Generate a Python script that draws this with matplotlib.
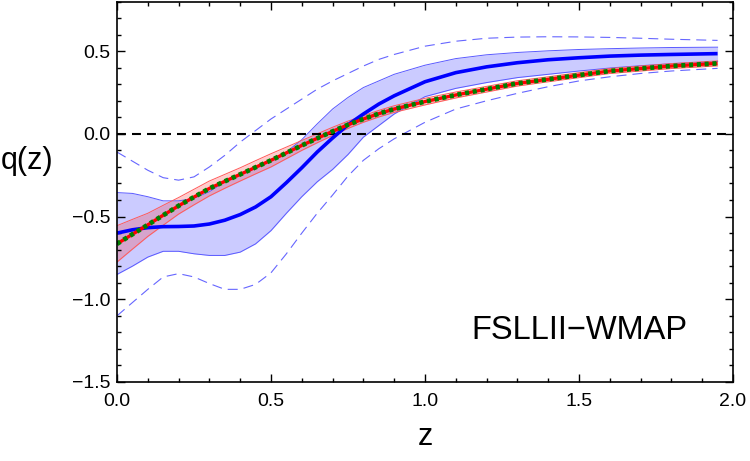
import matplotlib
matplotlib.use("Agg")
import matplotlib.pyplot as plt
from matplotlib.ticker import MultipleLocator

plt.rcParams['font.family'] = ['Liberation Sans', 'DejaVu Sans']

# redshift grid the values were read at
z = [0, 0.05, 0.1, 0.15, 0.2, 0.25, 0.3, 0.35, 0.4, 0.45, 0.5, 0.55, 0.6, 0.65,
     0.7, 0.75, 0.8, 0.85, 0.9, 1.0, 1.1, 1.2, 1.3, 1.4, 1.5, 1.6, 1.7, 1.8, 1.95]

# reconstruction (blue): mean, 1-sigma band, 2-sigma dashed limits
q_blue = [-0.60, -0.58, -0.567, -0.561, -0.56, -0.557, -0.545, -0.522, -0.488, -0.442,
          -0.38, -0.295, -0.205, -0.11, -0.025, 0.055, 0.12, 0.18, 0.23, 0.315,
          0.37, 0.405, 0.43, 0.448, 0.46, 0.47, 0.476, 0.48, 0.485]
blue_hi = [-0.355, -0.36, -0.38, -0.405, -0.405, -0.39, -0.35, -0.29, -0.24, -0.20,
           -0.155, -0.11, -0.035, 0.06, 0.15, 0.22, 0.28, 0.32, 0.36, 0.415,
           0.455, 0.478, 0.492, 0.502, 0.51, 0.515, 0.519, 0.522, 0.524]
blue_lo = [-0.85, -0.80, -0.745, -0.71, -0.71, -0.725, -0.735, -0.735, -0.715, -0.665,
           -0.585, -0.48, -0.38, -0.29, -0.215, -0.125, -0.02, 0.05, 0.12, 0.225,
           0.275, 0.31, 0.34, 0.36, 0.38, 0.398, 0.412, 0.424, 0.437]
blue_hi2 = [-0.11, -0.165, -0.22, -0.265, -0.28, -0.26, -0.20, -0.13, -0.05, 0.02,
            0.09, 0.15, 0.21, 0.27, 0.32, 0.365, 0.41, 0.45, 0.48, 0.53,
            0.56, 0.578, 0.585, 0.587, 0.586, 0.583, 0.578, 0.572, 0.565]
blue_lo2 = [-1.10, -1.02, -0.94, -0.865, -0.845, -0.865, -0.905, -0.94, -0.94, -0.91,
            -0.84, -0.725, -0.60, -0.48, -0.37, -0.255, -0.16, -0.09, -0.03, 0.07,
            0.15, 0.20, 0.245, 0.285, 0.32, 0.345, 0.365, 0.38, 0.396]

# model (red with band, green dotted on top)
q_red = [-0.665, -0.607, -0.55, -0.492, -0.435, -0.382, -0.33, -0.287, -0.245, -0.202,
         -0.16, -0.115, -0.07, -0.027, 0.015, 0.055, 0.09, 0.122, 0.15, 0.195,
         0.235, 0.27, 0.305, 0.33, 0.355, 0.38, 0.395, 0.41, 0.426]
red_err = [0.11, 0.09, 0.07, 0.06, 0.05, 0.047, 0.045, 0.042, 0.04, 0.04,
           0.04, 0.035, 0.03, 0.027, 0.025, 0.022, 0.02, 0.02, 0.02, 0.02,
           0.018, 0.017, 0.016, 0.015, 0.015, 0.015, 0.015, 0.015, 0.015]
q_green = q_red

red_hi = [q + e for q, e in zip(q_red, red_err)]
red_lo = [q - e for q, e in zip(q_red, red_err)]

fig = plt.figure(figsize=(7.5, 4.61), dpi=100)
ax = fig.add_axes([0.156, 0.1714, 0.8213, 0.8253])

ax.fill_between(z, blue_lo, blue_hi, color=(0.2, 0.2, 1.0), alpha=0.25, lw=0)
ax.plot(z, blue_hi, color=(0.35, 0.35, 1.0), lw=0.7)
ax.plot(z, blue_lo, color=(0.35, 0.35, 1.0), lw=0.7)
for y in (blue_hi2, blue_lo2):
    ax.plot(z, y, color=(0.4, 0.4, 1.0), lw=0.8, dashes=(9, 5.4))

ax.fill_between(z, red_lo, red_hi, color=(1.0, 0.1, 0.1), alpha=0.22, lw=0)
ax.plot(z, red_hi, color=(1.0, 0.35, 0.35), lw=0.7)
ax.plot(z, red_lo, color=(1.0, 0.35, 0.35), lw=0.7)

ax.axhline(0, color='black', lw=1.5, dashes=(4.3, 2.9))

ax.plot(z, q_blue, color='#0000ff', lw=2.6, solid_capstyle='butt')
ax.plot(z, q_red, color='#ff0000', lw=2.4, solid_capstyle='butt')
ax.plot(z, q_green, color='#008000', lw=3.4, dashes=(0.85, 0.8), dash_capstyle='butt')

ax.text(1.5, -1.19, 'FSLLII\u2212WMAP', fontsize=23.5, ha='center', va='center')

ax.set_xlim(0, 2.0)
ax.set_ylim(-1.5, 0.8)
ax.xaxis.set_major_locator(MultipleLocator(0.5))
ax.xaxis.set_minor_locator(MultipleLocator(0.1))
ax.yaxis.set_major_locator(MultipleLocator(0.5))
ax.yaxis.set_minor_locator(MultipleLocator(0.1))
ax.xaxis.set_major_formatter(lambda v, p: f'{v:.1f}'.replace('-', '\u2212'))
ax.yaxis.set_major_formatter(lambda v, p: f'{v:.1f}'.replace('-', '\u2212'))

ax.tick_params(which='both', direction='in', top=True, right=True, width=1.0,
               labelsize=14)
ax.tick_params(which='major', length=5.5)
ax.tick_params(which='minor', length=3)
ax.tick_params(axis='x', which='major', pad=8)
ax.tick_params(axis='y', which='major', pad=5)
for s in ax.spines.values():
    s.set_linewidth(1.2)

ax.set_xlabel('z', fontsize=22, va='center')
ax.xaxis.set_label_coords(0.5, -0.144)
ax.set_ylabel('q(z)', fontsize=22, rotation=0, ha='center', va='center')
ax.yaxis.set_label_coords(-0.146, 0.58)

fig.savefig('out.png', dpi=100)
